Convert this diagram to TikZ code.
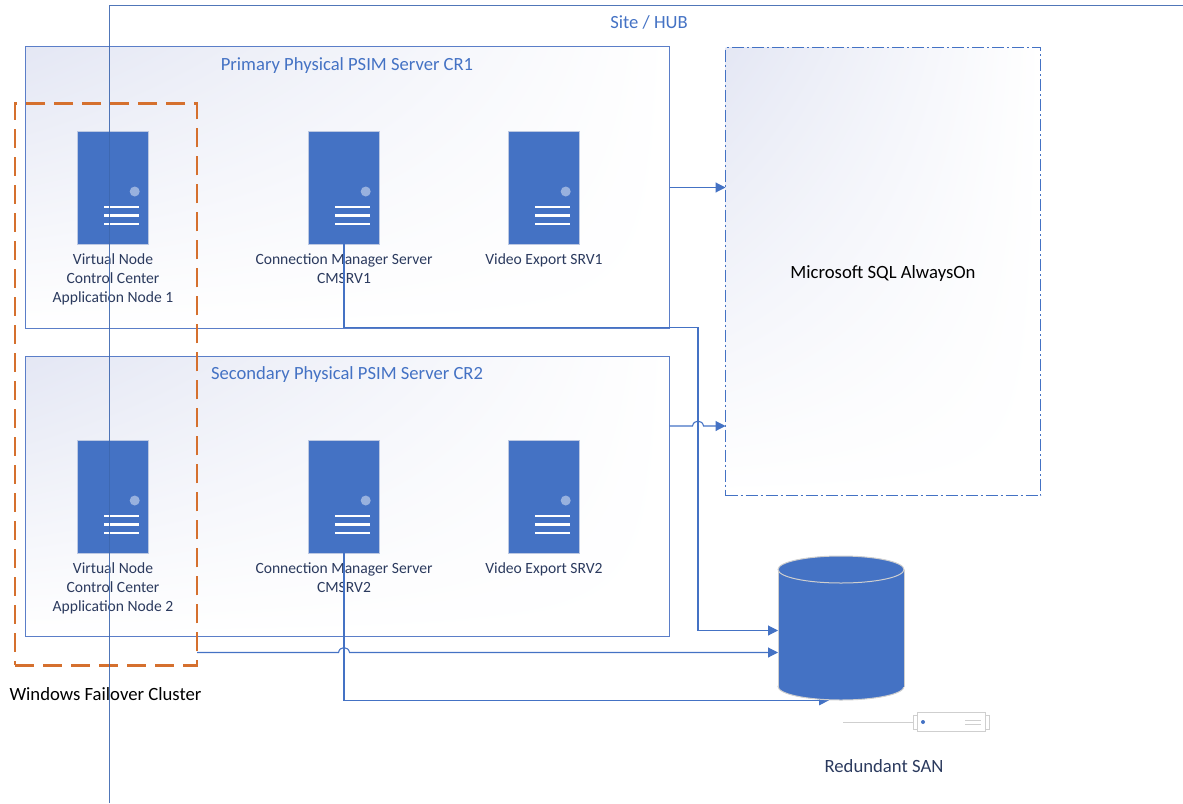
\documentclass[tikz,border=0pt]{standalone}
\usepackage{fontspec}
\setmainfont{Carlito}
\usetikzlibrary{arrows.meta,shadings,calc}
\definecolor{accent}{HTML}{4472C4}
\definecolor{lineblue}{HTML}{5B7EC8}
\definecolor{navy}{HTML}{2B3A5E}
\definecolor{orangeline}{HTML}{D5702E}
\definecolor{corner}{HTML}{E4E7F4}
\definecolor{svrborder}{HTML}{BCC8E2}
\definecolor{sangrey}{HTML}{CFCFCF}
\tikzset{
  panel/.style={rectangle,draw=lineblue,line width=1pt,inner sep=0pt,outer sep=0pt,
    upper left=corner,upper right=white,lower left=white,lower right=white},
  server/.style={rectangle,fill=accent,draw=svrborder,line width=1pt,inner sep=0pt,outer sep=0pt,
    minimum width=71pt,minimum height=113pt},
  svrline/.style={white,line width=2.6pt},
  lbl/.style={inner sep=0pt,outer sep=0pt,text=navy,font=\fontsize{15.6}{19}\selectfont,align=center},
  title/.style={inner sep=0pt,outer sep=0pt,text=accent,font=\fontsize{18.6}{19}\selectfont,align=center},
  blk/.style={inner sep=0pt,outer sep=0pt,text=black,font=\fontsize{18.7}{19}\selectfont,align=center},
  conn/.style={draw=accent,line width=1.1pt},
  arr/.style={conn,-{Triangle[length=10pt,width=10pt]}},
}
\newcommand{\serverat}[3]{%
  \node[server] (#1) at (#2,#3) {};
  \fill[white,opacity=.45] ($(#1.center)+(21.7,4)$) circle (5pt);
  \draw[svrline] ($(#1.center)+(-9,19.5)$) -- ++(35,0);
  \draw[svrline] ($(#1.center)+(-9,28)$) -- ++(35,0);
  \draw[svrline] ($(#1.center)+(-9,36.5)$) -- ++(35,0);
}
\begin{document}
\begin{tikzpicture}[x=1pt,y=-1pt]
\useasboundingbox (0,0) rectangle (1183,803);
% panels
\node[panel,minimum width=644pt,minimum height=281.5pt] (cr1) at (347.5,187.25) {};
\node[panel,minimum width=644pt,minimum height=280pt] (cr2) at (347.5,496.5) {};
\node[rectangle,draw=accent,line width=1pt,dash pattern=on 12pt off 3pt on 2pt off 3pt,
  upper left=corner,upper right=white,lower left=white,lower right=white,
  inner sep=0pt,outer sep=0pt,minimum width=315pt,minimum height=448pt] (sql) at (883,271.5) {};
\node[blk] (sqlt) at (883,273.8) {Microsoft SQL AlwaysOn};
% titles
\node[title] (sitet) at (649,22.5) {Site / HUB};
\node[title] (cr1t) at (347,65.2) {Primary Physical PSIM Server CR1};
\node[title] (cr2t) at (347,374.2) {Secondary Physical PSIM Server CR2};
% servers
\serverat{a1}{113}{187.5}
\serverat{b1}{344}{187.5}
\serverat{c1}{544}{187.5}
\serverat{a2}{113}{496.5}
\serverat{b2}{344}{496.5}
\serverat{c2}{544}{496.5}
% labels
\node[lbl] (a1t) at (113,279) {Virtual Node\\Control Center\\Application Node 1};
\node[lbl] (b1t) at (344,269) {Connection Manager Server\\CMSRV1};
\node[lbl] (c1t) at (544,260) {Video Export SRV1};
\node[lbl] (a2t) at (113,588) {Virtual Node\\Control Center\\Application Node 2};
\node[lbl] (b2t) at (344,578) {Connection Manager Server\\CMSRV2};
\node[lbl] (c2t) at (544,569) {Video Export SRV2};
% connector helper coordinates
\coordinate (y187) at (0,187.5);
\coordinate (y426) at (0,426);
\coordinate (y630) at (0,630.5);
\coordinate (y652) at (0,652.5);
\coordinate (y327) at (0,327.7);
\coordinate (busx) at (698,0);
\coordinate (j1a) at (692.5,426);
\coordinate (j1b) at (703.5,426);
\coordinate (j2a) at (338.5,652.5);
\coordinate (j2b) at (349.5,652.5);
\coordinate (sanend) at (829,700.3);
% connector under the cylinder
\draw[arr] (b2.south) |- (sanend);
% cylinder
\node[rectangle,inner sep=0pt,outer sep=0pt,minimum width=126pt,minimum height=144pt] (san) at (841,628) {};
\draw[sangrey,fill=accent,line width=1pt] ($(san.south)+(0,-13.5)$) ellipse (63pt and 13.5pt);
\fill[accent] ($(san.north west)+(0,13.5)$) rectangle ($(san.south east)+(0,-13.5)$);
\draw[sangrey,line width=1pt] ($(san.north west)+(0,13.5)$) -- ($(san.south west)+(0,-13.5)$);
\draw[sangrey,line width=1pt] ($(san.north east)+(0,13.5)$) -- ($(san.south east)+(0,-13.5)$);
\draw[sangrey,fill=accent,line width=1pt] ($(san.north)+(0,13.5)$) ellipse (63pt and 13.5pt);
% SAN device
\node[rectangle,draw=sangrey,fill=white,line width=1pt,inner sep=0pt,outer sep=0pt,
  minimum width=4pt,minimum height=14pt] (sanl) at (915,722) {};
\node[rectangle,draw=sangrey,fill=white,line width=1pt,inner sep=0pt,outer sep=0pt,
  minimum width=4pt,minimum height=14pt] (sanr) at (987,722) {};
\node[rectangle,draw=sangrey,fill=white,line width=1pt,inner sep=0pt,outer sep=0pt,
  minimum width=68pt,minimum height=19pt] (sand) at (951,722) {};
\coordinate (sanw) at (843,722);
\draw[sangrey,line width=1pt] (sanw) -- (sanl.west);
\fill[accent] ($(sand.west)+(6,0)$) circle (2pt);
\draw[sangrey,line width=1pt] ($(sand.east)+(-20,-2)$) -- ++(16,0);
\draw[sangrey,line width=1pt] ($(sand.east)+(-20,2)$) -- ++(16,0);
\node[lbl] (sant) at (884,766.5) {\fontsize{18.7}{19}\selectfont Redundant SAN};
% orange cluster
\node[rectangle,draw=orangeline,line width=2.6pt,dash pattern=on 19pt off 9pt,
  inner sep=0pt,outer sep=0pt,minimum width=182pt,minimum height=562pt] (wfc) at (106,384.3) {};
\node[blk] (wfct) at (105.5,694) {Windows Failover Cluster};
% site frame
\coordinate (sitebot) at (109.5,803);
\coordinate (sitecorner) at (109.5,5.5);
\coordinate (siteend) at (1183,5.5);
\draw[accent!90!black,line width=1pt,opacity=.9] (sitebot) -- (sitecorner) -- (siteend);
% connectors
\draw[arr] (cr1.east |- y187) -- (sql.west |- y187);
\draw[arr] (cr2.east |- y426) -- (j1a) .. controls (693.5,419.5) and (702.5,419.5) .. (j1b) -- (sql.west |- y426);
\draw[arr] (b1.south) |- (busx |- y327) -- (busx |- y630) -- (san.west |- y630);
\draw[arr] (wfc.east |- y652) -- (j2a) .. controls (339.5,646) and (348.5,646) .. (j2b) -- (san.west |- y652);
\end{tikzpicture}
\end{document}
